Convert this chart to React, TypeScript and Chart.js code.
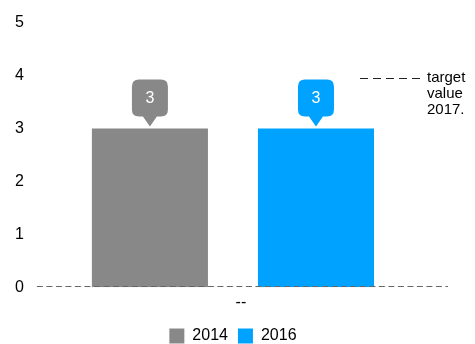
import React, { useEffect, useRef } from "react";
import { Chart, registerables } from "chart.js";

Chart.register(...registerables);

const categories: string[] = ["--"];
const seriesNames: string[] = ["2014", "2016"];
const values2014: number[] = [3];
const values2016: number[] = [3];
const seriesColors: string[] = ["#888888", "#00a2ff"];
const targetLabelLines: string[] = ["target", "value", "2017."];

const FONT = "'Liberation Sans', Arial, sans-serif";

const overlayPlugin = {
  id: "overlay",
  afterDatasetsDraw(chart: any) {
    const { ctx, chartArea, scales } = chart;
    const y0 = scales.y.getPixelForValue(0);
    ctx.save();
    // zero line (dashed)
    ctx.strokeStyle = "#666666";
    ctx.lineWidth = 1;
    ctx.setLineDash([6, 3.5]);
    ctx.beginPath();
    ctx.moveTo(chartArea.left, Math.round(y0) - 0.5);
    ctx.lineTo(chartArea.right + 19, Math.round(y0) - 0.5);
    ctx.stroke();
    ctx.setLineDash([]);

    // value callouts
    chart.data.datasets.forEach((ds: any, di: number) => {
      const meta = chart.getDatasetMeta(di);
      meta.data.forEach((bar: any, i: number) => {
        const v = ds.data[i];
        const x = bar.x;
        const top = bar.y;
        const w = 36;
        const h = 37;
        const bottom = top - 12;
        const bx = x - w / 2;
        const by = bottom - h;
        const r = 7;
        ctx.fillStyle = ds.backgroundColor;
        ctx.beginPath();
        ctx.moveTo(bx + r, by);
        ctx.lineTo(bx + w - r, by);
        ctx.quadraticCurveTo(bx + w, by, bx + w, by + r);
        ctx.lineTo(bx + w, bottom - r);
        ctx.quadraticCurveTo(bx + w, bottom, bx + w - r, bottom);
        ctx.lineTo(x + 7, bottom);
        ctx.lineTo(x, top - 2);
        ctx.lineTo(x - 7, bottom);
        ctx.lineTo(bx + r, bottom);
        ctx.quadraticCurveTo(bx, bottom, bx, bottom - r);
        ctx.lineTo(bx, by + r);
        ctx.quadraticCurveTo(bx, by, bx + r, by);
        ctx.closePath();
        ctx.fill();
        ctx.fillStyle = "#ffffff";
        ctx.font = `16px ${FONT}`;
        ctx.textAlign = "center";
        ctx.textBaseline = "middle";
        ctx.fillText(String(v), x, by + h / 2 + 1);
      });
    });

    // target legend (top right)
    const ly = Math.round(scales.y.getPixelForValue(4)) + 2.5;
    const lx = chartArea.right - 69;
    ctx.strokeStyle = "#222222";
    ctx.lineWidth = 1;
    ctx.setLineDash([8, 5]);
    ctx.beginPath();
    ctx.moveTo(lx, ly);
    ctx.lineTo(lx + 60, ly);
    ctx.stroke();
    ctx.setLineDash([]);
    ctx.fillStyle = "#000000";
    ctx.font = `15px ${FONT}`;
    ctx.textAlign = "left";
    ctx.textBaseline = "alphabetic";
    targetLabelLines.forEach((t, i) => {
      ctx.fillText(t, lx + 67, ly + 3 + i * 16);
    });
    ctx.restore();
  },
};

export default function App() {
  const ref = useRef<HTMLCanvasElement | null>(null);
  useEffect(() => {
    if (!ref.current) return;
    const chart = new Chart(ref.current, {
      type: "bar",
      data: {
        labels: categories,
        datasets: [
          {
            label: seriesNames[0],
            data: values2014,
            backgroundColor: seriesColors[0],
            categoryPercentage: 0.847,
            barPercentage: 0.699,
          },
          {
            label: seriesNames[1],
            data: values2016,
            backgroundColor: seriesColors[1],
            categoryPercentage: 0.847,
            barPercentage: 0.699,
          },
        ],
      },
      options: {
        animation: false,
        responsive: false,
        layout: { padding: { left: 2, right: 46, top: 20, bottom: -10 } },
        scales: {
          x: {
            grid: { display: false, drawTicks: false },
            border: { display: false },
            ticks: {
              font: { family: FONT, size: 16 },
              color: "#000000",
              padding: 5.75,
              labelOffset: 8,
            },
          },
          y: {
            min: 0,
            max: 5,
            grid: { display: false, drawTicks: false },
            border: { display: false },
            ticks: {
              stepSize: 1,
              font: { family: FONT, size: 16 },
              color: "#000000",
              padding: 13,
            },
          },
        },
        plugins: {
          legend: {
            position: "bottom",
            fullSize: false,
            labels: {
              boxWidth: 15,
              boxHeight: 15,
              font: { family: FONT, size: 16 },
              color: "#000000",
              padding: 10,
            },
          },
          tooltip: { enabled: false },
        },
      },
      plugins: [overlayPlugin],
    });
    return () => chart.destroy();
  }, []);
  return (
    <div style={{ position: "absolute", left: 0, top: 0, width: 475, height: 344 }}>
      <canvas ref={ref} width={475} height={344} style={{ display: "block" }} />
    </div>
  );
}
